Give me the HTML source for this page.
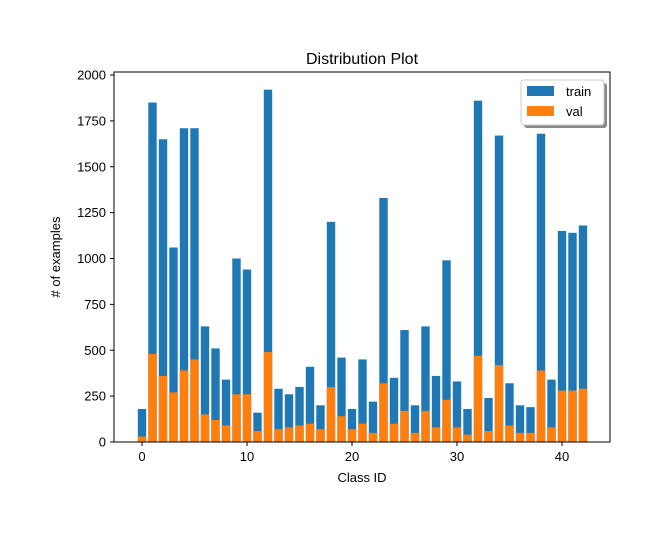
<!DOCTYPE html>
<html><head><meta charset="utf-8"><style>body{margin:0;background:#fff}svg{font-family:"Liberation Sans","DejaVu Sans",sans-serif}</style></head>
<body>
<svg id="chart" width="660" height="535">
<rect width="660" height="535" fill="#fff"/>
<text x="362" y="64" font-size="16" text-anchor="middle">Distribution Plot</text>
<g id="bars"></g>
<rect x="114" y="72" width="496" height="370" fill="none" stroke="#000" stroke-width="1"/>
<g id="xticks"></g><g id="yticks"></g>
<text x="362" y="482" font-size="13" text-anchor="middle">Class ID</text>
<text transform="translate(60,257) rotate(-90)" font-size="13" text-anchor="middle"># of examples</text>
<g>
<rect x="524" y="83" width="83" height="45" rx="3" fill="#888"/>
<rect x="521" y="80" width="83" height="45" rx="3" fill="#fff" stroke="#ccc"/>
<rect x="527" y="86" width="27" height="10" fill="#1f77b4"/>
<text x="566" y="96" font-size="13">train</text>
<rect x="527" y="106" width="27" height="10" fill="#ff7f0e"/>
<text x="566" y="116" font-size="13">val</text>
</g>
</svg>
<script>
const train=[180,1850,1650,1060,1710,1710,630,510,340,1000,940,160,1920,290,260,300,410,200,1200,460,180,450,220,1330,350,610,200,630,360,990,330,180,1860,240,1670,320,200,190,1680,340,1150,1140,1180];
const val=[30,480,360,270,390,450,150,120,90,260,260,60,490,70,80,90,100,70,300,140,70,100,50,320,100,170,50,170,80,230,80,40,470,60,420,90,50,50,390,80,280,280,290];
const xTicks=[0,10,20,30,40];
const yTicks=[0,250,500,750,1000,1250,1500,1750,2000];
const NS="http://www.w3.org/2000/svg";
const xs=c=>142+c*10.5;
const ys=v=>442-v*0.1835;
const bars=document.getElementById('bars');
function bar(c,v,color,name){
  const r=document.createElementNS(NS,'rect');
  r.setAttribute('x',xs(c)-4.2);r.setAttribute('width',8.4);
  r.setAttribute('y',ys(v));r.setAttribute('height',442-ys(v));
  r.setAttribute('fill',color);
  
  
  bars.appendChild(r);
}
train.forEach((v,i)=>bar(i,v,'#1f77b4','train-bar-'+i));
val.forEach((v,i)=>bar(i,v,'#ff7f0e','val-bar-'+i));
const xg=document.getElementById('xticks');
xTicks.forEach(t=>{
  const l=document.createElementNS(NS,'line');
  l.setAttribute('x1',xs(t));l.setAttribute('x2',xs(t));l.setAttribute('y1',442);l.setAttribute('y2',446);l.setAttribute('stroke','#000');
  
  
  xg.appendChild(l);
  const tx=document.createElementNS(NS,'text');
  tx.setAttribute('x',xs(t));tx.setAttribute('y',461);tx.setAttribute('font-size',13);tx.setAttribute('text-anchor','middle');
  tx.textContent=t;
  
  
  xg.appendChild(tx);
});
const yg=document.getElementById('yticks');
yTicks.forEach(t=>{
  const l=document.createElementNS(NS,'line');
  l.setAttribute('x1',110);l.setAttribute('x2',114);l.setAttribute('y1',ys(t));l.setAttribute('y2',ys(t));l.setAttribute('stroke','#000');
  
  
  yg.appendChild(l);
  const tx=document.createElementNS(NS,'text');
  tx.setAttribute('x',106);tx.setAttribute('y',ys(t)+4.5);tx.setAttribute('font-size',13);tx.setAttribute('text-anchor','end');
  tx.textContent=t;
  
  
  yg.appendChild(tx);
});
</script>
</body></html>
